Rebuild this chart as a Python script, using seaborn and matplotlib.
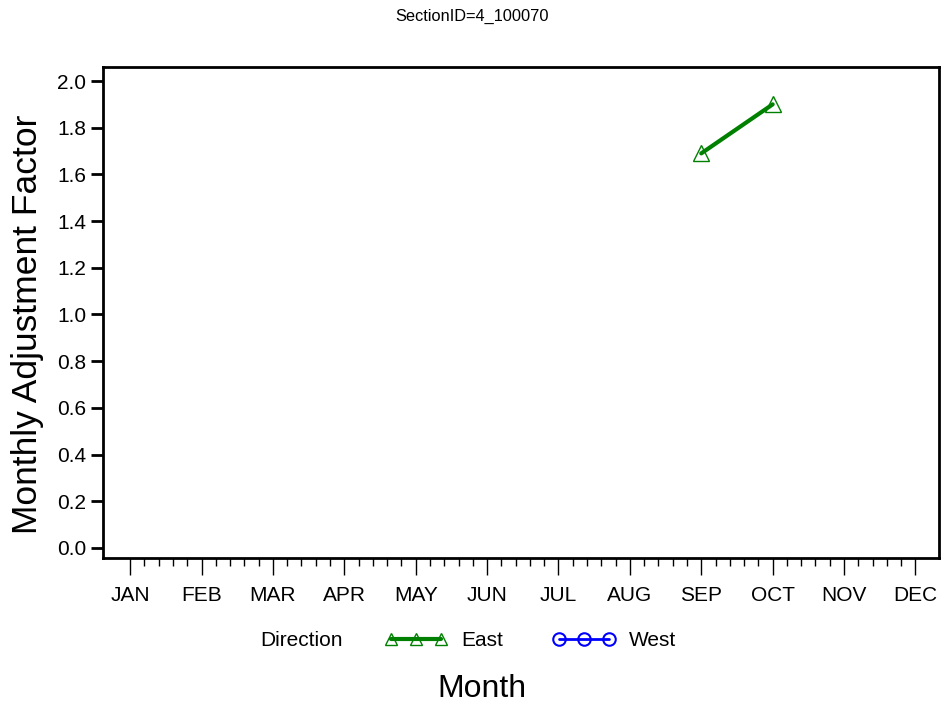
import matplotlib
matplotlib.use("Agg")
import matplotlib.pyplot as plt
from matplotlib.lines import Line2D
from matplotlib.ticker import FixedLocator
import seaborn as sns
import pandas as pd
import numpy as np

months = ["JAN", "FEB", "MAR", "APR", "MAY", "JUN", "JUL", "AUG", "SEP", "OCT", "NOV", "DEC"]
east_months = [9, 10]
east_values = [1.69, 1.90]
west_months = []
west_values = []
y_ticks = [0.0, 0.2, 0.4, 0.6, 0.8, 1.0, 1.2, 1.4, 1.6, 1.8, 2.0]

sns.set_style("white")
plt.rcParams['font.family'] = ['Liberation Sans', 'DejaVu Sans']
plt.rcParams['text.color'] = 'black'
plt.rcParams['axes.labelcolor'] = 'black'
plt.rcParams['xtick.color'] = 'black'
plt.rcParams['ytick.color'] = 'black'

df = pd.DataFrame({
    "Month": east_months + west_months,
    "Factor": east_values + west_values,
    "Direction": ["East"] * len(east_values) + ["West"] * len(west_values),
})

fig = plt.figure(figsize=(9.43, 7.06), dpi=100)
ax = fig.add_axes([103 / 943, 1 - 558 / 706, (939 - 103) / 943, (558 - 67) / 706])

sns.lineplot(data=df[df.Direction == "East"], x="Month", y="Factor", ax=ax,
             color="#008000", linewidth=3, marker="^", markersize=11,
             markerfacecolor="none", markeredgecolor="#008000", markeredgewidth=1.0,
             legend=False)

ax.set_xlim(0.62, 12.33)
ax.set_ylim(-0.043, 2.06)
ax.set_xticks(range(1, 13))
ax.set_xticklabels(months)
minor = [v for v in np.round(np.arange(1, 12.0001, 0.2), 2) if abs(v - round(v)) > 1e-6]
ax.xaxis.set_minor_locator(FixedLocator(minor))
ax.set_yticks(y_ticks)
ax.set_yticklabels([f"{v:.1f}" for v in y_ticks])

for s in ax.spines.values():
    s.set_linewidth(2)
    s.set_color("black")

ax.tick_params(axis="x", which="major", length=12, width=1, labelsize=15, pad=8, direction="out", bottom=True)
ax.tick_params(axis="x", which="minor", length=6, width=1, direction="out", bottom=True)
ax.tick_params(axis="y", which="major", length=9, width=2, labelsize=15, pad=3, direction="out", left=True)

ax.set_xlabel("")
ax.set_ylabel("")
ax.grid(False)

fig.text(472 / 943, 1 - 16 / 706, "SectionID=4_100070", ha="center", va="center", fontsize=11.8)
fig.text(482 / 943, 1 - 689 / 706, "Month", ha="center", va="center", fontsize=23)
fig.text(28 / 943, 1 - 324 / 706, "Monthly Adjustment Factor", ha="center", va="center",
         rotation=90, fontsize=25.5)
fig.text(260 / 943, 1 - 641 / 706, "Direction", ha="left", va="center", fontsize=15)

handles = [
    Line2D([0], [0], color="#008000", linewidth=3, marker="^", markersize=9,
           markerfacecolor="none", markeredgecolor="#008000", markeredgewidth=1.0),
    Line2D([0], [0], color="#0000ff", linewidth=2, marker="o", markersize=9,
           markerfacecolor="none", markeredgecolor="#0000ff", markeredgewidth=1.5),
]
fig.legend(handles, ["East", "West"], loc="center left",
           bbox_to_anchor=(366 / 943, 1 - 641 / 706), ncol=2, frameon=False,
           numpoints=3, handlelength=3.0, columnspacing=2.4, handletextpad=0.65,
           fontsize=15)

fig.savefig("out.png", dpi=100, facecolor="white")
